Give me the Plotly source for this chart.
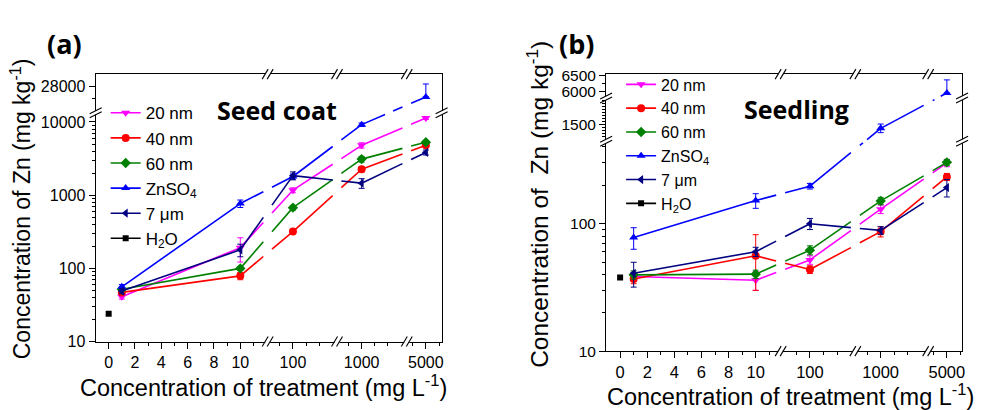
import math
import plotly.graph_objects as go

W, H = 983, 410

# ---------------- data ----------------
treat = [1, 10, 100, 1000, 5000]          # treatment concentration (mg/L)
ctrl_x = [0]                               # H2O control

x_tick_vals = [0, 2, 4, 6, 8, 10, 100, 1000, 5000]
x_tick_text = ["0", "2", "4", "6", "8", "10", "100", "1000", "5000"]
x_minor_vals = [1, 3, 5, 7, 9, 11, 75, 125, 150, 750, 1250, 1500, 4000, 6000]

names = ["20 nm", "40 nm", "60 nm", "ZnSO<sub>4</sub>", "7 \u03bcm"]
h2o_name = "H<sub>2</sub>O"
colors = ["#FF00FF", "#FF0000", "#008000", "#0000FF", "#000080"]
symbols = ["triangle-down", "circle", "diamond", "triangle-up", "triangle-left"]

# (a) Seed coat
a_20nm = [41, 192, 1170, 4800, 11300]
a_20nm_err = [3, 70, 90, 400, 500]
a_40nm = [47, 79, 318, 2260, 4800]
a_40nm_err = [3, 9, 20, 180, 300]
a_60nm = [52, 100, 676, 3110, 5300]
a_60nm_err = [3, 6, 50, 280, 300]
a_znso4 = [56, 769, 1800, 9200, 26300]
a_znso4_err = [4, 90, 150, 500, 2100]
a_znso4_err_minus = [4, 90, 150, 500, 0]
a_7um = [49, 179, 1850, 1460, 3840]
a_7um_err = [4, 35, 230, 220, 300]
a_h2o = [24]

a_y_tick_vals = [10, 100, 1000, 10000, 28000]
a_y_tick_text = ["10", "100", "1000", "10000", "28000"]
a_y_minor = ([20, 30, 40, 50, 60, 70, 80, 90, 200, 300, 400, 500, 600, 700, 800, 900,
              2000, 3000, 4000, 5000, 6000, 7000, 8000, 9000, 26000])

# (b) Seedling
b_20nm = [38.5, 36, 52, 130, 300]
b_20nm_err = [3, 6, 4, 10, 20]
b_40nm = [36.8, 56, 43.7, 86.7, 233]
b_40nm_err = [3, 26, 3, 8, 15]
b_60nm = [39.7, 40.2, 62, 151, 303]
b_60nm_err = [3, 3, 5, 10, 15]
b_znso4 = [78, 152, 197, 1375, 5940]
b_znso4_err = [15, 20, 10, 145, 410]
b_znso4_err_minus = [15, 20, 10, 145, 0]
b_7um = [40.8, 60.3, 100, 88.6, 192]
b_7um_err = [9, 5, 10, 6, 30]
b_h2o = [37.9]

b_y_tick_vals = [10, 100, 1500, 6000, 6500]
b_y_tick_text = ["10", "100", "1500", "6000", "6500"]
b_y_minor = ([20, 30, 40, 50, 60, 70, 80, 90, 200, 300, 400] +
             [1100, 1200, 1300, 1400, 1600, 1700, 1800, 1900, 2000, 2100, 2200, 2300] +
             [6250])

# ---------------- broken-axis scales ----------------
# (value_lo, value_hi, pos_lo, pos_hi, kind)
X_SEGS = [(-2, 12.3, -2, 12.3, "lin"),
          (50, 200, 12.0, 18.0, "lin"),
          (500, 1500, 17.22, 21.22, "lin"),
          (2500, 7500, 21.6, 26.6, "lin")]
A_Y_SEGS = [(10, 12650, 0.0, 0.849, "log"),
            (24000, 30000, 0.862, 1.0, "lin")]
B_Y_SEGS = [(10, 431, 0.0, 0.752, "log"),
            (1000, 2340, 0.764, 0.908, "lin"),
            (5837, 6530, 0.920, 1.0, "lin")]


def make_scale(segs):
    def f(v):
        seg = None
        for s in segs:
            if s[0] <= v <= s[1]:
                seg = s
                break
        if seg is None:
            seg = min(segs, key=lambda s: min(abs(v - s[0]), abs(v - s[1])))
        vlo, vhi, plo, phi, kind = seg
        if kind == "log":
            t = (math.log10(v) - math.log10(vlo)) / (math.log10(vhi) - math.log10(vlo))
        else:
            t = (v - vlo) / (vhi - vlo)
        return plo + t * (phi - plo)
    return f


fx = make_scale(X_SEGS)
fya = make_scale(A_Y_SEGS)
fyb = make_scale(B_Y_SEGS)


def band_interval(u0, u1, a, b):
    if u1 == u0:
        return (0.0, 1.0) if a <= u0 <= b else None
    t1 = (a - u0) / (u1 - u0)
    t2 = (b - u0) / (u1 - u0)
    lo, hi = max(0.0, min(t1, t2)), min(1.0, max(t1, t2))
    return (lo, hi) if hi > lo else None


def split_line(xs, ys, xbands, ybands):
    ox, oy = [], []
    for i in range(len(xs) - 1):
        x0, y0, x1, y1 = xs[i], ys[i], xs[i + 1], ys[i + 1]
        cuts = []
        for a, b in xbands:
            iv = band_interval(x0, x1, a, b)
            if iv:
                cuts.append(iv)
        for a, b in ybands:
            iv = band_interval(y0, y1, a, b)
            if iv:
                cuts.append(iv)
        cuts.sort()
        pieces, t = [], 0.0
        for c0, c1 in cuts:
            if c0 > t:
                pieces.append((t, c0))
            t = max(t, c1)
        if t < 1:
            pieces.append((t, 1.0))
        for p0, p1 in pieces:
            ox += [x0 + (x1 - x0) * p0, x0 + (x1 - x0) * p1, None]
            oy += [y0 + (y1 - y0) * p0, y0 + (y1 - y0) * p1, None]
    return ox, oy


def px(x):
    return x / W


def py(y):
    return 1 - y / H


FONT = "Liberation Sans, Arial, sans-serif"
fig = go.Figure()


def add_panel(xa, ya, fy, series, errs, errs_minus, h2o, xbreaks, ybands, legend):
    xbands = [(b - 0.33, b + 0.33) for b in xbreaks]
    xp = [fx(v) for v in treat]
    for k, (vals, err) in enumerate(zip(series, errs)):
        em = errs_minus[k] if errs_minus[k] is not None else err
        yp = [fy(v) for v in vals]
        lx, ly = split_line(xp, yp, xbands, ybands)
        fig.add_trace(go.Scatter(x=lx, y=ly, mode="lines", xaxis=xa, yaxis=ya,
                                 line=dict(color=colors[k], width=1.6),
                                 showlegend=False, hoverinfo="skip"))
        up = [fy(v + e) - fy(v) for v, e in zip(vals, err)]
        dn = [fy(v) - fy(v - e) for v, e in zip(vals, em)]
        fig.add_trace(go.Scatter(x=xp, y=yp, mode="markers", xaxis=xa, yaxis=ya,
                                 marker=dict(symbol=symbols[k], color=colors[k], size=8),
                                 error_y=dict(type="data", symmetric=False, array=up,
                                              arrayminus=dn, color=colors[k],
                                              thickness=1, width=3),
                                 showlegend=False, name=names[k]))
    fig.add_trace(go.Scatter(x=[fx(v) for v in ctrl_x], y=[fy(v) for v in h2o],
                             mode="markers", xaxis=xa, yaxis=ya,
                             marker=dict(symbol="square", color="black", size=6),
                             showlegend=False, name=h2o_name))
    # legend entries
    for k in range(len(names)):
        fig.add_trace(go.Scatter(x=[None], y=[None], mode="lines+markers", xaxis=xa, yaxis=ya,
                                 name=names[k], legend=legend,
                                 line=dict(color=colors[k], width=1.6),
                                 marker=dict(symbol=symbols[k], color=colors[k], size=8)))
    fig.add_trace(go.Scatter(x=[None], y=[None], mode="lines+markers", xaxis=xa, yaxis=ya,
                             name=h2o_name, legend=legend,
                             line=dict(color="black", width=1.6),
                             marker=dict(symbol="square", color="black", size=6)))


add_panel("x", "y", fya,
          [a_20nm, a_40nm, a_60nm, a_znso4, a_7um],
          [a_20nm_err, a_40nm_err, a_60nm_err, a_znso4_err, a_7um_err],
          [None, None, None, a_znso4_err_minus, None],
          a_h2o, [12.08, 17.35, 22.65], [(0.849, 0.862)], "legend")
add_panel("x2", "y2", fyb,
          [b_20nm, b_40nm, b_60nm, b_znso4, b_7um],
          [b_20nm_err, b_40nm_err, b_60nm_err, b_znso4_err, b_7um_err],
          [None, None, None, b_znso4_err_minus, None],
          b_h2o, [11.84, 17.35, 22.72], [(0.752, 0.764), (0.908, 0.920)], "legend2")


def axis_common(fsize):
    return dict(showgrid=False, zeroline=False, showline=True, mirror=True,
                linecolor="black", linewidth=1.3, ticks="outside", ticklen=6,
                tickwidth=1.2, tickcolor="black", tickmode="array",
                tickfont=dict(family=FONT, size=fsize, color="black"))


def xaxis_cfg(domain, rng, anchor, fsize):
    d = axis_common(fsize)
    d.update(domain=domain, range=rng, anchor=anchor,
             tickvals=[fx(v) for v in x_tick_vals], ticktext=x_tick_text,
             minor=dict(tickmode="array", tickvals=[fx(v) for v in x_minor_vals],
                        ticks="outside", ticklen=3, tickwidth=1, tickcolor="black"))
    return d


def yaxis_cfg(domain, fy, tv, tt, mv, anchor, fsize):
    d = axis_common(fsize)
    d.update(domain=domain, range=[0, 1], anchor=anchor,
             tickvals=[fy(v) for v in tv], ticktext=tt,
             minor=dict(tickmode="array", tickvals=[fy(v) for v in mv],
                        ticks="outside", ticklen=3, tickwidth=1, tickcolor="black"))
    return d


a_dom_x = [px(96), px(443)]
a_dom_y = [py(348), py(69)]
b_dom_x = [px(608), px(965)]
b_dom_y = [py(358), py(69)]

fig.update_layout(
    width=W, height=H, autosize=False,
    margin=dict(l=0, r=0, t=0, b=0),
    paper_bgcolor="white", plot_bgcolor="white",
    xaxis=xaxis_cfg(a_dom_x, [-0.985, 25.3], "y", 16),
    yaxis=yaxis_cfg(a_dom_y, fya, a_y_tick_vals, a_y_tick_text, a_y_minor, "x", 16),
    xaxis2=xaxis_cfg(b_dom_x, [-1.03, 25.22], "y2", 16.5),
    yaxis2=yaxis_cfg(b_dom_y, fyb, b_y_tick_vals, b_y_tick_text, b_y_minor, "x2", 15.5),
    legend=dict(x=px(106), y=py(91), xanchor="left", yanchor="top",
                bgcolor="rgba(0,0,0,0)", font=dict(family=FONT, size=17, color="black"),
                itemwidth=30),
    legend2=dict(x=px(623), y=py(62), xanchor="left", yanchor="top",
                 bgcolor="rgba(0,0,0,0)", font=dict(family=FONT, size=16, color="black"),
                 itemwidth=30),
)

# ---------------- break marks ----------------
shapes = []


def xbreak_marks(xref, yref, pos):
    for yd in (0, 1):
        shapes.append(dict(type="rect", xref=xref, yref=yref, xsizemode="pixel",
                           ysizemode="pixel", xanchor=pos, yanchor=yd,
                           x0=-2.5, x1=2.5, y0=-1.5, y1=1.5,
                           fillcolor="white", line=dict(width=0), layer="above"))
        for off in (-2.5, 2.5):
            shapes.append(dict(type="line", xref=xref, yref=yref, xsizemode="pixel",
                               ysizemode="pixel", xanchor=pos, yanchor=yd,
                               x0=off - 3, x1=off + 3, y0=-5, y1=5,
                               line=dict(color="black", width=1.1), layer="above"))


def ybreak_marks(xref, yref, pos):
    for xd in (0, 1):
        shapes.append(dict(type="rect", xref=xref, yref=yref, xsizemode="pixel",
                           ysizemode="pixel", xanchor=xd, yanchor=pos,
                           x0=-1.5, x1=1.5, y0=-2, y1=2,
                           fillcolor="white", line=dict(width=0), layer="above"))
        for off in (-2, 2):
            shapes.append(dict(type="line", xref=xref, yref=yref, xsizemode="pixel",
                               ysizemode="pixel", xanchor=xd, yanchor=pos,
                               x0=-6, x1=6, y0=off - 3, y1=off + 3,
                               line=dict(color="black", width=1.1), layer="above"))


for b in [12.08, 17.35, 22.65]:
    xbreak_marks("x", "y domain", b)
for b in [11.84, 17.35, 22.72]:
    xbreak_marks("x2", "y2 domain", b)
ybreak_marks("x domain", "y", 0.8555)
ybreak_marks("x2 domain", "y2", 0.758)
ybreak_marks("x2 domain", "y2", 0.914)
fig.update_layout(shapes=shapes)

# ---------------- text ----------------
ann = []
ann.append(dict(x=px(65), y=py(37), text="<b>(a)</b>",
                font=dict(family="Open Sans", size=27, color="black")))
ann.append(dict(x=px(578), y=py(37), text="<b>(b)</b>",
                font=dict(family="Open Sans", size=27, color="black")))
ann.append(dict(x=px(278), y=py(106), text="<b>Seed coat</b>",
                font=dict(family="Open Sans", size=25, color="black")))
ann.append(dict(x=px(799), y=py(105), text="<b>Seedling</b>",
                font=dict(family="Open Sans", size=25, color="black")))
ann.append(dict(x=px(21), y=py(209), textangle=-90,
                text="Concentration of Zn (mg kg<sup>-1</sup>)",
                font=dict(family=FONT, size=23, color="black")))
ann.append(dict(x=px(539), y=py(205), textangle=-90,
                text="Concentration of&nbsp; Zn (mg kg<sup>-1</sup>)",
                font=dict(family=FONT, size=24.5, color="black")))
ann.append(dict(x=px(264), y=py(394),
                text="Concentration of treatment (mg L<sup>-1</sup>)",
                font=dict(family=FONT, size=23.5, color="black")))
ann.append(dict(x=px(793), y=py(404),
                text="Concentration of treatment (mg L<sup>-1</sup>)",
                font=dict(family=FONT, size=23.5, color="black")))
for a in ann:
    a.update(xref="paper", yref="paper", xanchor="center", yanchor="middle",
             showarrow=False)
fig.update_layout(annotations=ann)

fig.write_html("out.html")
